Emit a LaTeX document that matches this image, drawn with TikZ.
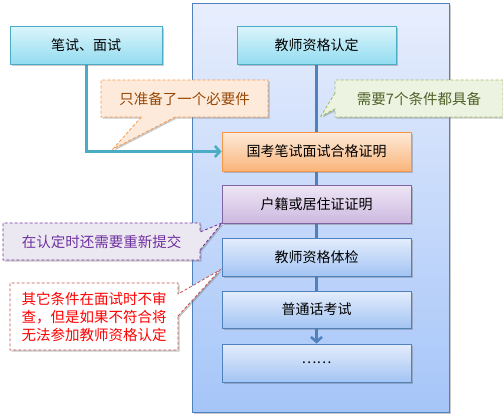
\documentclass[tikz,border=0pt]{standalone}
\usepackage{fontspec}
\setmainfont{Noto Sans CJK SC}
\usetikzlibrary{shapes.callouts,shadows,arrows.meta}
\pgfdeclarelayer{back}\pgfdeclarelayer{mid}\pgfsetlayers{back,mid,main}
\definecolor{tealB}{HTML}{4BACC6}
\definecolor{blueB}{HTML}{4F81BD}
\definecolor{orangeB}{HTML}{F79646}
\definecolor{purpleB}{HTML}{8064A2}
\definecolor{greenB}{HTML}{9BBB59}
\definecolor{redB}{HTML}{C0504D}
\definecolor{brownT}{HTML}{984806}
\definecolor{oliveT}{HTML}{4F6228}
\definecolor{purpleT}{HTML}{7030A0}
\definecolor{frameTop}{HTML}{E8EEFD}
\definecolor{frameBot}{HTML}{A5C5F8}
\definecolor{blueTop}{HTML}{E4EDFC}
\definecolor{blueBot}{HTML}{A3C4F3}
\definecolor{tealTop}{HTML}{DCF5FC}
\definecolor{tealBot}{HTML}{93DCF0}
\definecolor{orTop}{HTML}{FDEADA}
\definecolor{orBot}{HTML}{FAB57A}
\definecolor{puTop}{HTML}{EEE6F5}
\definecolor{puBot}{HTML}{CDB9E0}
\begin{document}
\begin{tikzpicture}[x=1pt,y=-1pt,
  shad/.style={drop shadow={shadow xshift=1.5pt,shadow yshift=-1.5pt,opacity=0.35,fill=black!60}},
  box/.style={draw,line width=0.8pt,minimum width=189pt,minimum height=38pt,inner sep=0pt,
    font=\fontsize{14}{16}\selectfont,shad},
  tealbox/.style={box,draw=tealB,top color=tealTop,bottom color=tealBot},
  bluebox/.style={box,draw=blueB,top color=blueTop,bottom color=blueBot},
  orangebox/.style={box,draw=orangeB,top color=orTop,bottom color=orBot},
  purplebox/.style={box,draw=purpleB,top color=puTop,bottom color=puBot},
  call/.style={rectangle callout,draw,dash pattern=on 3pt off 2pt,line width=0.8pt,inner sep=0pt,
    font=\fontsize{14.5}{18}\selectfont,shad},
  flow/.style={line width=3pt}
]
\useasboundingbox (0,0) rectangle (503,415);
\begin{pgfonlayer}{back}
\node[draw=blueB,line width=0.8pt,top color=frameTop,bottom color=frameBot,
  minimum width=257pt,minimum height=409pt,inner sep=0pt,shad] (frame) at (320.5,207.5) {};
\end{pgfonlayer}

\node[tealbox,minimum width=152pt] (written) at (86,45) {笔试、面试};
\node[tealbox,minimum width=159pt] (auth) at (316.5,45) {教师资格认定};
\node[orangebox,minimum height=39pt] (guokao) at (316.5,151.5) {国考笔试面试合格证明};
\node[purplebox] (huji) at (316.5,204) {户籍或居住证证明};
\node[bluebox] (tijian) at (316.5,257) {教师资格体检};
\node[bluebox,minimum height=37pt] (putong) at (316.5,309.5) {普通话考试};
\node[bluebox] (dots) at (316.5,363) {……};

\begin{pgfonlayer}{mid}
\draw[flow,draw=blueB,-{Straight Barb[length=5pt,width=11pt,line width=2.5pt]}] (auth.south) -- (dots.north);
\draw[flow,draw=tealB,-{Straight Barb[length=5pt,width=11pt,line width=2.5pt]}] (written.south) |- (guokao.west);
\end{pgfonlayer}

\coordinate (p1) at (113,149);
\coordinate (p2) at (321,116);
\coordinate (p3) at (222,223);
\coordinate (p4) at (220,270);

\node[call,draw=orangeB,fill=orTop,text=brownT,minimum width=167pt,minimum height=37pt,
  callout absolute pointer={(p1)},callout pointer width=34pt] (c1) at (184.5,98.5) {只准备了一个必要件};
\node[call,draw=greenB,fill=greenB!18,text=oliveT,minimum width=168pt,minimum height=37pt,
  callout absolute pointer={(p2)},callout pointer width=16pt] (c2) at (419,98.5) {需要7个条件都具备};
\node[call,draw=purpleT,fill=purpleB!15,text=purpleT,minimum width=197pt,minimum height=37pt,
  callout absolute pointer={(p3)},callout pointer width=18pt] (c3) at (101.5,241.5) {在认定时还需要重新提交};
\node[call,draw=redB,fill=white,text=red,minimum width=168pt,minimum height=67pt,align=left,
  callout absolute pointer={(p4)},callout pointer width=22pt] (c4) at (94,316.5)
  {其它条件在面试时不审\\查，但是如果不符合将\\无法参加教师资格认定};
\end{tikzpicture}
\end{document}
